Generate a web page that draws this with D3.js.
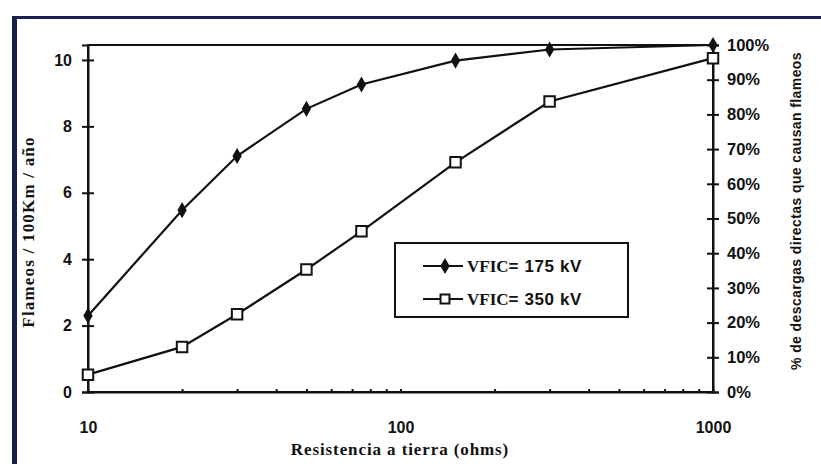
<!DOCTYPE html>
<html>
<head>
<meta charset="utf-8">
<script src="https://cdn.jsdelivr.net/npm/d3@7"></script>
<style>
	body { margin: 0; background: #fff; }
	svg { display: block; }
	.tick-lbl { font-family: 'Liberation Sans', Arial, sans-serif; font-weight: bold; font-size: 16px; fill: #111; }
	.tick-r { font-size: 16.5px; }
</style>
</head>
<body>
<svg class="chart" width="821" height="464"></svg>
<script>
// resistencia a tierra (ohms)
var resistencia = [10, 20, 30, 50, 75, 150, 300, 1000];
// % de descargas directas que causan flameos
var vfic175 = [0.22, 0.524, 0.68, 0.816, 0.886, 0.955, 0.987, 1.0];
var vfic350 = [0.05, 0.13, 0.224, 0.353, 0.463, 0.662, 0.837, 0.962];
var seriesNames = ['175 kV', '350 kV'];

var leftTicks = [0, 2, 4, 6, 8, 10];
var rightTicks = [0, 0.1, 0.2, 0.3, 0.4, 0.5, 0.6, 0.7, 0.8, 0.9, 1.0];
var xTicks = [10, 100, 1000];
var xMinor = [20, 30, 40, 50, 60, 70, 80, 90, 100, 200, 300, 400, 500, 600, 700, 800, 900];

function makeChart (options) {

	var config = {
		left: 88,
		right: 713,
		top: 45,
		bottom: 392,
		selector: '.chart',
		navy: '#1b1f4b',
		serif: "'Liberation Serif', 'Times New Roman', serif",
		sans: "'Liberation Sans', Arial, sans-serif"
	};
	Object.assign(config, options);

	var svg = d3.select(config.selector);

	// marco azul del documento
	svg.append('rect').attr('x', 12).attr('y', 16).attr('width', 809).attr('height', 3).attr('fill', config.navy);
	svg.append('rect').attr('x', 12).attr('y', 16).attr('width', 5).attr('height', 448).attr('fill', config.navy);

	var xScale = d3.scaleLog()
		.domain([10, 1000])
		.range([config.left, config.right]);

	var yLeft = d3.scaleLinear()
		.domain([0, 10.45])
		.range([config.bottom, config.top]);

	var yRight = d3.scaleLinear()
		.domain([0, 1])
		.range([config.bottom, config.top]);

	// borde del area
	svg.append('rect')
		.attr('x', config.left).attr('y', config.top)
		.attr('width', config.right - config.left)
		.attr('height', config.bottom - config.top)
		.attr('fill', 'none').attr('stroke', '#111').attr('stroke-width', 2);

	//axis left
	var gl = svg.append('g')
		.attr('transform', 'translate(' + config.left + ',0)')
		.call(d3.axisLeft(yLeft).tickValues(leftTicks).tickSizeOuter(0).tickSize(6).tickPadding(10));
	gl.selectAll('.tick line').attr('x1', 6);
	gl.selectAll('text').attr('class', 'tick-lbl').attr('font-family', null).attr('font-size', null);

	//axis right
	var gr = svg.append('g')
		.attr('transform', 'translate(' + config.right + ',0)')
		.call(d3.axisRight(yRight).tickValues(rightTicks).tickFormat(d3.format('.0%')).tickSizeOuter(0).tickSize(6).tickPadding(8));
	gr.selectAll('.tick line').attr('x1', -6);
	gr.selectAll('text').attr('class', 'tick-lbl tick-r').attr('font-family', null).attr('font-size', null);

	//axis bottom
	var gb = svg.append('g')
		.attr('transform', 'translate(0,' + config.bottom + ')')
		.call(d3.axisBottom(xScale).tickValues(xMinor).tickSizeOuter(0).tickSize(-3).tickFormat(''));
	var gb2 = svg.append('g')
		.attr('transform', 'translate(0,' + config.bottom + ')')
		.call(d3.axisBottom(xScale).tickValues(xTicks).tickSizeOuter(0).tickSize(0).tickPadding(30).tickFormat(d3.format('d')));
	gb2.select('.domain').remove();
	gb2.selectAll('text').attr('class', 'tick-lbl').attr('font-family', null).attr('font-size', null);

	svg.selectAll('.domain, .tick line').attr('stroke', '#111').attr('stroke-width', 2);

	//titles
	svg.append('text')
		.text('Resistencia a tierra (ohms)')
		.attr('x', 400).attr('y', 455)
		.attr('text-anchor', 'middle')
		.attr('font-family', config.serif).attr('font-weight', 'bold').attr('font-size', 17)
		.attr('letter-spacing', 0.9)
		.attr('fill', '#111');

	svg.append('text')
		.text('Flameos / 100Km / año')
		.attr('transform', 'translate(34,232) rotate(-90)')
		.attr('text-anchor', 'middle')
		.attr('font-family', config.serif).attr('font-weight', 'bold').attr('font-size', 17)
		.attr('letter-spacing', 1.2)
		.attr('fill', '#111');

	svg.append('text')
		.text('% de descargas directas que causan flameos')
		.attr('transform', 'translate(801,211) rotate(-90)')
		.attr('text-anchor', 'middle')
		.attr('font-family', config.sans).attr('font-weight', 'bold').attr('font-size', 14)
		.attr('letter-spacing', 0.4)
		.attr('fill', '#111');

	//series
	var line = d3.line()
		.x(d => xScale(d[0]))
		.y(d => yRight(d[1]));

	var s1 = d3.zip(resistencia, vfic175);
	var s2 = d3.zip(resistencia, vfic350);

	svg.append('path').datum(s1)
		.attr('d', line).attr('fill', 'none').attr('stroke', '#111').attr('stroke-width', 2.2);
	svg.append('path').datum(s2)
		.attr('d', line).attr('fill', 'none').attr('stroke', '#111').attr('stroke-width', 2.2);

	var diamond = d3.symbol().type(d3.symbolDiamond).size(75);
	var square = d3.symbol().type(d3.symbolSquare).size(110);

	svg.selectAll('.m1').data(s1).enter().append('path')
		.attr('class', 'm1')
		.attr('d', diamond)
		.attr('transform', d => 'translate(' + xScale(d[0]) + ',' + yRight(d[1]) + ')')
		.attr('fill', '#111');

	svg.selectAll('.m2').data(s2).enter().append('path')
		.attr('class', 'm2')
		.attr('d', square)
		.attr('transform', d => 'translate(' + xScale(d[0]) + ',' + yRight(d[1]) + ')')
		.attr('fill', '#fff').attr('stroke', '#111').attr('stroke-width', 2);

	//legend
	var legend = svg.append('g').attr('transform', 'translate(395,243)');
	legend.append('rect')
		.attr('width', 233).attr('height', 74)
		.attr('fill', '#fff').attr('stroke', '#111').attr('stroke-width', 2);

	var rows = legend.selectAll('.row').data(seriesNames).enter().append('g')
		.attr('class', 'row')
		.attr('transform', (d, i) => 'translate(0,' + (23 + i * 33) + ')');

	rows.append('line')
		.attr('x1', 28).attr('x2', 68)
		.attr('stroke', '#111').attr('stroke-width', 2.2);
	rows.append('path')
		.attr('d', (d, i) => i === 0 ? diamond() : d3.symbol().type(d3.symbolSquare).size(80)())
		.attr('transform', 'translate(50,0)')
		.attr('fill', (d, i) => i === 0 ? '#111' : '#fff')
		.attr('stroke', '#111').attr('stroke-width', (d, i) => i === 0 ? 0 : 2);

	var txt = rows.append('text')
		.attr('x', 72).attr('y', 6)
		.attr('font-weight', 'bold').attr('font-size', 17).attr('fill', '#111');
	txt.append('tspan').attr('font-family', config.serif).text('VFIC');
	txt.append('tspan').attr('font-family', config.sans).attr('letter-spacing', 0.6).text(d => '= ' + d);
}

makeChart({});
</script>
</body>
</html>
